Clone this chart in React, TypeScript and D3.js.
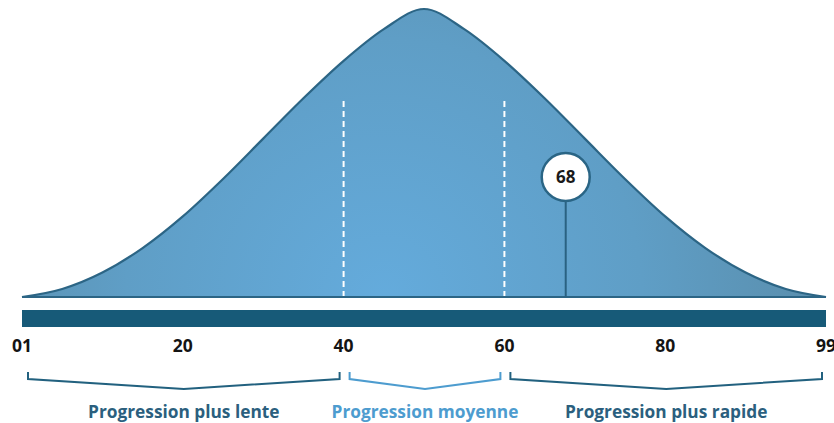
import React from 'react'
import * as d3 from 'd3'

// curve: percentile -> relative height (peak = 100)
const curvePercentiles = [0, 5, 10, 15, 20, 25, 30, 35, 40, 45, 50, 55, 60, 65, 70, 75, 80, 85, 90, 95, 100]
const curveHeights = [0, 2.8, 8.5, 17, 28, 41, 55, 69, 82, 93, 100, 93, 82, 69, 55, 41, 28, 17, 8.5, 2.8, 0]

const tickValues = [0, 20, 40, 60, 80, 100]
const tickLabels = ['01', '20', '40', '60', '80', '99']

const zoneBounds = [40, 60]
const markerValue = 68

const groups = [
  {label: 'Progression plus lente', from: 0, to: 40, color: '#22617f', text: '#2b5f7e'},
  {label: 'Progression moyenne', from: 40, to: 60, color: '#4d9ccf', text: '#4d9ccf'},
  {label: 'Progression plus rapide', from: 60, to: 100, color: '#22617f', text: '#2b5f7e'},
]

const W = 834
const H = 423

export default function App() {
  const x = d3.scaleLinear().domain([0, 100]).range([22, 826])
  const y = d3.scaleLinear().domain([0, 100]).range([297, 9])

  const pts = curvePercentiles.map((p, i) => ({p, h: curveHeights[i]}))
  const area = d3
    .area<{p: number; h: number}>()
    .x(d => x(d.p))
    .y0(y(0))
    .y1(d => y(d.h))
    .curve(d3.curveMonotoneX)
  const line = d3
    .line<{p: number; h: number}>()
    .x(d => x(d.p))
    .y(d => y(d.h))
    .curve(d3.curveMonotoneX)

  const markerX = x(markerValue) - 3
  const circleY = 177
  const r = 24

  const font = "'Open Sans', 'Noto Sans', sans-serif"

  return (
    <svg width={W} height={H} style={{position: 'absolute', left: 0, top: 0}} fontFamily={font}>
      <defs>
        <radialGradient id="bell" gradientUnits="userSpaceOnUse" cx={x(45)} cy={y(0)} r={430} fx={x(45)} fy={y(0)}>
          <stop offset="0" stopColor="#64abdc" />
          <stop offset="0.6" stopColor="#5f9ec6" />
          <stop offset="1" stopColor="#5a8fae" />
        </radialGradient>
      </defs>

      <path d={area(pts) || ''} fill="url(#bell)" />
      <path d={line(pts) || ''} fill="none" stroke="#2c6585" strokeWidth={2.2} />
      <line x1={x(0)} x2={x(100)} y1={y(0)} y2={y(0)} stroke="#2c6585" strokeWidth={2} />

      {zoneBounds.map(v => (
        <line
          key={v}
          x1={x(v)}
          x2={x(v)}
          y1={101}
          y2={y(0) - 1}
          stroke="#fff"
          strokeWidth={2}
          strokeDasharray="6 4"
        />
      ))}

      {/* marker */}
      <line x1={markerX} x2={markerX} y1={circleY + r} y2={y(0)} stroke="#2a6282" strokeWidth={2} />
      <circle cx={markerX} cy={circleY} r={r} fill="#fff" stroke="#2a6585" strokeWidth={2.5} />
      <text x={markerX} y={circleY + 6} textAnchor="middle" fontWeight={700} fontSize={17} fill="#1a1a1a">
        {markerValue}
      </text>

      {/* axis bar */}
      <rect x={x(0)} y={310} width={x(100) - x(0)} height={17} fill="#175a78" />
      {tickValues.map((v, i) => (
        <text key={v} x={x(v)} y={352} textAnchor="middle" fontWeight={700} fontSize={17.5} fill="#141414">
          {tickLabels[i]}
        </text>
      ))}

      {/* brackets */}
      {groups.map(g => {
        const left = x(g.from) + 6
        const right = x(g.to) - 4
        const mid = (left + right) / 2
        return (
          <g key={g.label}>
            <path
              d={`M${left},372 L${left},379 L${mid},389 L${right},379 L${right},372`}
              fill="none"
              stroke={g.color}
              strokeWidth={2}
            />
            <text x={mid} y={418} textAnchor="middle" fontWeight={700} fontSize={17.3} fill={g.text}>
              {g.label}
            </text>
          </g>
        )
      })}
    </svg>
  )
}
